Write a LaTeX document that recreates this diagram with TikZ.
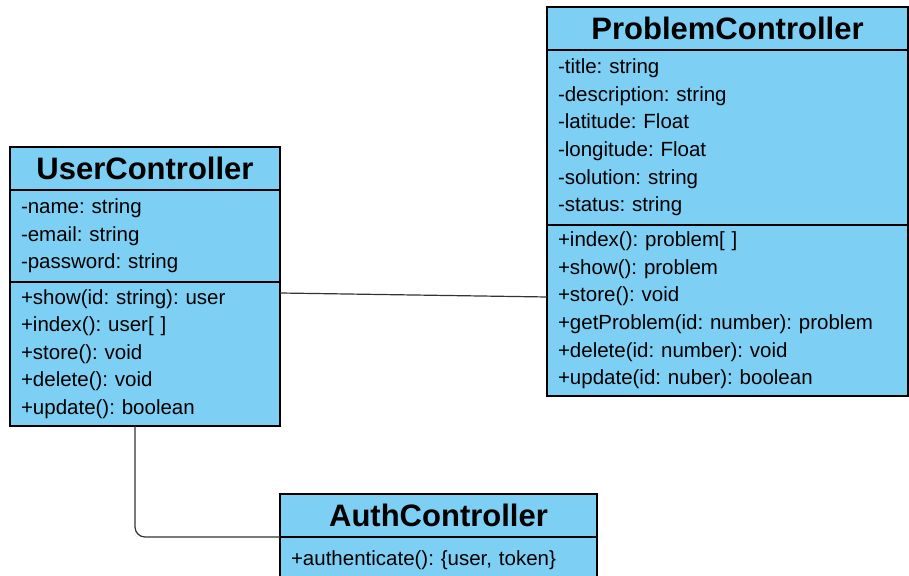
\documentclass[tikz,border=0pt]{standalone}
\usepackage{fontspec}
\setmainfont{Liberation Sans}
\usetikzlibrary{positioning}
\definecolor{CtrlBlue}{HTML}{7DCFF3}
\definecolor{CtrlLine}{HTML}{333333}
\frenchspacing

\begin{document}
\begin{tikzpicture}[x=1pt,y=1pt,
  classhead/.style={draw=black,fill=CtrlBlue,line width=1.2pt,outer sep=0pt,inner sep=0pt,
    minimum height=43pt,anchor=north west,font=\fontsize{31pt}{34pt}\selectfont\bfseries},
  classpart/.style={draw=black,fill=CtrlBlue,line width=1.2pt,outer sep=0pt,inner xsep=11pt,
    inner ysep=0pt,align=left,font=\fontsize{20.5pt}{27.6pt}\selectfont},
  link/.style={draw=CtrlLine,line width=1.2pt}]
\path[use as bounding box] (0,0) rectangle (909,575);
\clip (0,0) rectangle (909,575);
% user controller
\node[classhead,minimum width=270pt] (uctl-head) at (10,428) {UserController};
\node[classpart,below=0pt of uctl-head,text width=248pt,minimum height=92pt] (uctl-attr)
  {-name: string\\-email: string\\-password: string};
\node[classpart,below=0pt of uctl-attr,text width=248pt,minimum height=144pt] (uctl-meth)
  {+show(id: string): user\\+index(): user[~]\\+store(): void\\+delete(): void\\+update(): boolean};
% problem controller
\node[classhead,minimum width=361pt] (pctl-head) at (547,568) {ProblemController};
\node[classpart,below=0pt of pctl-head,text width=339pt,minimum height=175pt] (pctl-attr)
  {-title: string\\-description: string\\-latitude: Float\\-longitude: Float\\-solution: string\\-status: string};
\node[classpart,below=0pt of pctl-attr,text width=339pt,minimum height=171pt] (pctl-meth)
  {+index(): problem[~]\\+show(): problem\\+store(): void\\+getProblem(id: number): problem\\+delete(id: number): void\\+update(id: nuber): boolean};
% auth controller
\node[classhead,minimum width=317pt] (actl-head) at (280,81) {AuthController};
\node[classpart,below=0pt of actl-head,text width=295pt,minimum height=46pt] (actl-meth)
  {+authenticate(): \{user, token\}};
% links
\draw[link] ([yshift=-11pt]uctl-meth.north east) -- ([yshift=-72pt]pctl-meth.north west);
\draw[link,rounded corners=10pt] ([xshift=-10pt]uctl-meth.south) |- (actl-head.south west);
\end{tikzpicture}
\end{document}
